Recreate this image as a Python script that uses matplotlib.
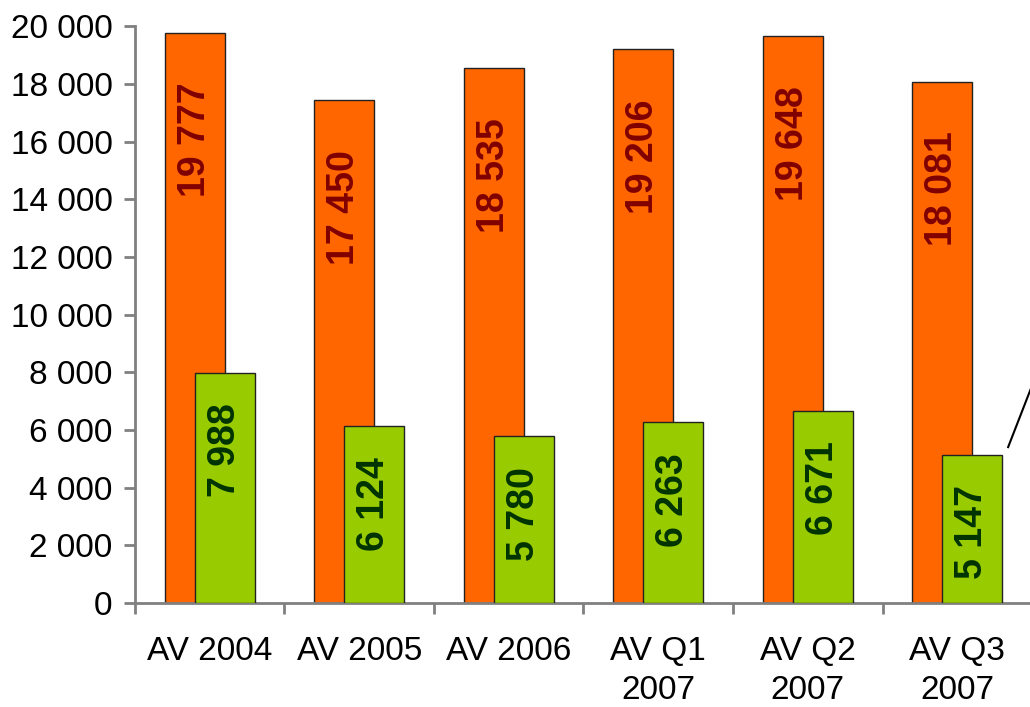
import numpy as np
import matplotlib
matplotlib.use("Agg")
import matplotlib.pyplot as plt
from matplotlib.ticker import FuncFormatter, MultipleLocator

# === datos ===
categorias = ["AV 2004", "AV 2005", "AV 2006", "AV Q1\n2007", "AV Q2\n2007", "AV Q3\n2007"]
serie_naranja = [19777, 17450, 18535, 19206, 19648, 18081]
serie_verde = [7988, 6124, 5780, 6263, 6671, 5147]

plt.rcParams['font.family'] = ['Liberation Sans', 'DejaVu Sans']

fig = plt.figure(figsize=(10.3, 7.07), dpi=100)
ax = fig.add_axes([0.131, 0.147, 0.871, 0.816])

x = np.arange(len(categorias))
ancho = 0.4
b1 = ax.bar(x - 0.1, serie_naranja, ancho, color="#FF6600", edgecolor="#222222", linewidth=1, zorder=2)
b2 = ax.bar(x + 0.1, serie_verde, ancho, color="#99CC00", edgecolor="#222222", linewidth=1, zorder=3)

def miles(v, pos=None):
    return f"{int(v):,}".replace(",", " ")

# etiquetas dentro de las barras
for xi, v in zip(x - 0.1, serie_naranja):
    ax.annotate(miles(v), (xi, v), xytext=(0, -36), textcoords="offset points",
                rotation=90, ha="center", va="top", fontsize=27, fontweight="bold",
                color="#800000", zorder=4)
for xi, v in zip(x + 0.1, serie_verde):
    ax.annotate(miles(v), (xi, v), xytext=(0, -22), textcoords="offset points",
                rotation=90, ha="center", va="top", fontsize=27, fontweight="bold",
                color="#003300", zorder=4)

# linea guia de la etiqueta cortada
xl = x[-1] + 0.1 + ancho / 2 + 0.04
yl = serie_verde[-1] + 260
ax.plot([xl, xl + 0.15], [yl, yl + 2000], color="black", linewidth=1.5, clip_on=False, zorder=5)

ax.set_xlim(-0.5, len(categorias) - 0.5)
ax.set_ylim(0, 20000)
ax.yaxis.set_major_locator(MultipleLocator(2000))
ax.yaxis.set_major_formatter(FuncFormatter(miles))

ax.set_xticks(x)
ax.set_xticklabels(categorias)
ax.set_xticks(np.arange(len(categorias) + 1) - 0.5, minor=True)

for s in ["top", "right"]:
    ax.spines[s].set_visible(False)
for s in ["left", "bottom"]:
    ax.spines[s].set_color("#808080")
    ax.spines[s].set_linewidth(2)

ax.tick_params(axis="y", direction="out", length=8, width=2, color="#808080",
               labelsize=24, pad=8)
ax.tick_params(axis="x", which="major", length=0, labelsize=24, pad=24)
ax.tick_params(axis="x", which="minor", direction="out", length=8, width=2, color="#808080")

for lbl in ax.get_xticklabels():
    lbl.set_linespacing(1.32)

fig.savefig("out.png", dpi=100)
